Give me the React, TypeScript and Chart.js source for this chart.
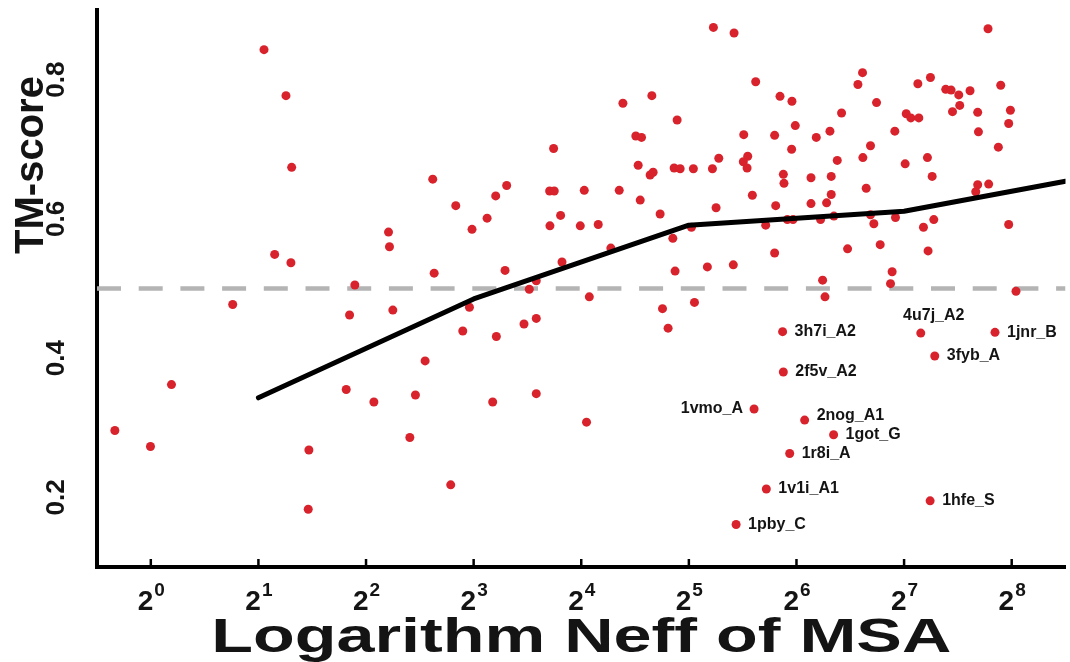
import React, { useEffect, useRef } from "react";
import { Chart, registerables } from "chart.js";

Chart.register(...registerables);

// ---------- data (x = log2 of Neff, y = TM-score) ----------
const neffLog2 = [
  1.052, 1.256, 1.309, 3.743, 2.62, 3.307, 5.228, 5.42, 5.621, 4.387,
  4.656, 4.891, 5.847, 5.958, 5.989, 4.507, 4.56, 5.51, 5.797, 6.184,
  6.311, 5.955, 4.529, 4.64, 4.668, 4.863, 4.919, 5.042, 5.219, 5.278,
  5.547, 5.506, 5.541, 5.878, 5.884, 6.135, 6.323, 4.028, 4.353, 7.78,
  6.614, 6.571, 7.128, 7.245, 7.387, 7.437, 7.508, 7.613, 7.898, 6.744,
  6.419, 7.517, 7.45, 7.684, 7.988, 7.972, 7.02, 7.063, 7.137, 6.914,
  7.691, 6.688, 7.876, 6.379, 6.617, 7.217, 7.01, 7.261, 6.648, 7.684,
  7.786, 7.666, 1.151, 1.302, 0.761, 2.834, 3.205, 3.706, 3.749, 2.209,
  2.218, 2.985, 3.125, 3.808, 3.709, 3.991, 3.821, 3.292, 2.633, 1.896,
  3.582, 3.517, 4.075, 1.847, 2.249, 2.961, 2.899, 3.211, 3.468, 3.582,
  2.549, 4.548, 4.733, 4.158, 4.275, 4.851, 5.024, 5.253, 5.59, 5.807,
  5.714, 5.915, 5.968, 6.135, 6.28, 6.323, 6.224, 5.797, 4.872, 5.172,
  5.413, 6.243, 6.265, 4.755, 5.052, 4.807, 6.348, 6.688, 6.719, 6.92,
  7.18, 7.276, 7.972, 6.475, 6.778, 7.223, 6.889, 6.874, 8.04, 0.192,
  -0.334, -0.003, 1.469, 1.463, 1.816, 2.073, 2.459, 2.407, 2.787, 3.177,
  3.582, 4.049,
];
const tmScore = [
  0.843, 0.777, 0.674, 0.701, 0.657, 0.648, 0.875, 0.867, 0.797, 0.766,
  0.777, 0.742, 0.776, 0.769, 0.734, 0.719, 0.717, 0.721, 0.72, 0.717,
  0.726, 0.7, 0.677, 0.663, 0.667, 0.673, 0.672, 0.672, 0.672, 0.687,
  0.69, 0.682, 0.673, 0.664, 0.651, 0.659, 0.661, 0.641, 0.641, 0.873,
  0.81, 0.793, 0.794, 0.803, 0.786, 0.785, 0.778, 0.784, 0.792, 0.767,
  0.752, 0.763, 0.754, 0.753, 0.756, 0.737, 0.751, 0.745, 0.745, 0.726,
  0.725, 0.705, 0.703, 0.684, 0.688, 0.688, 0.679, 0.661, 0.644, 0.649,
  0.65, 0.639, 0.549, 0.537, 0.477, 0.619, 0.633, 0.64, 0.64, 0.581,
  0.56, 0.585, 0.601, 0.605, 0.59, 0.59, 0.538, 0.526, 0.522, 0.505,
  0.511, 0.499, 0.488, 0.462, 0.469, 0.473, 0.439, 0.431, 0.449, 0.457,
  0.396, 0.627, 0.607, 0.592, 0.558, 0.572, 0.588, 0.616, 0.634, 0.619,
  0.591, 0.599, 0.599, 0.622, 0.623, 0.635, 0.599, 0.551, 0.525, 0.531,
  0.534, 0.512, 0.488, 0.471, 0.48, 0.443, 0.604, 0.606, 0.593, 0.602,
  0.588, 0.599, 0.592, 0.557, 0.563, 0.554, 0.524, 0.507, 0.496, 0.362,
  0.296, 0.273, 0.268, 0.183, 0.355, 0.337, 0.347, 0.286, 0.218, 0.337,
  0.349, 0.308,
];

const labelNames = [
  "3h7i_A2", "2f5v_A2", "4u7j_A2", "1jnr_B", "3fyb_A", "1vmo_A",
  "2nog_A1", "1got_G", "1r8i_A", "1v1i_A1", "1pby_C", "1hfe_S",
];
const labelNeffLog2 = [5.871, 5.878, 7.155, 7.845, 7.285, 5.606, 6.076, 6.345, 5.937, 5.72, 5.439, 7.242];
const labelTmScore = [0.438, 0.38, 0.436, 0.437, 0.403, 0.327, 0.311, 0.29, 0.263, 0.212, 0.161, 0.195];

const trendNeffLog2 = [1, 3, 5, 7, 8.5];
const trendTmScore = [0.343, 0.485, 0.591, 0.611, 0.654];

const thresholdTm = 0.5;
const xTickExponents = [0, 1, 2, 3, 4, 5, 6, 7, 8];
const yTickValues = [0.2, 0.4, 0.6, 0.8];
const xAxisTitle = "Logarithm Neff of MSA";
const yAxisTitle = "TM-score";

// ---------- style ----------
const FONT = "'Liberation Sans', Arial, sans-serif";
const RED = "#d8232c";
const TEXT = "#141414";

const decorPlugin = {
  id: "decor",
  afterDraw(chart: any) {
    const ctx = chart.ctx as CanvasRenderingContext2D;
    const xs = chart.scales.x;
    const ys = chart.scales.y;
    const area = chart.chartArea;
    ctx.save();
    ctx.fillStyle = TEXT;
    ctx.strokeStyle = "#000";

    // x tick marks and labels 2^k
    xs.ticks.forEach((t: any) => {
      const px = xs.getPixelForValue(t.value);
      ctx.lineWidth = 2.5;
      ctx.beginPath();
      ctx.moveTo(px, area.bottom);
      ctx.lineTo(px, area.bottom - 8);
      ctx.stroke();

      const exp = String(t.value);
      ctx.font = `bold 28px ${FONT}`;
      const wb = ctx.measureText("2").width;
      ctx.font = `bold 19px ${FONT}`;
      const we = ctx.measureText(exp).width;
      const start = px - (wb + we) / 2;
      ctx.textAlign = "left";
      ctx.textBaseline = "alphabetic";
      ctx.font = `bold 28px ${FONT}`;
      ctx.fillText("2", start, 610);
      ctx.font = `bold 19px ${FONT}`;
      ctx.fillText(exp, start + wb + 1, 596);
    });

    // y tick labels (rotated)
    ys.ticks.forEach((t: any) => {
      const py = ys.getPixelForValue(t.value);
      ctx.save();
      ctx.translate(64, py);
      ctx.rotate(-Math.PI / 2);
      ctx.font = `bold 26px ${FONT}`;
      ctx.textAlign = "center";
      ctx.textBaseline = "alphabetic";
      ctx.fillText(String(t.value), 0, 0);
      ctx.restore();
    });

    // x axis title (slightly widened like the reference)
    ctx.save();
    ctx.font = `bold 49px ${FONT}`;
    const natural = ctx.measureText(xAxisTitle).width;
    const targetW = 740;
    const cx = (area.left + area.right) / 2;
    ctx.translate(cx, 652);
    ctx.scale(targetW / natural, 1);
    ctx.textAlign = "center";
    ctx.textBaseline = "alphabetic";
    ctx.fillText(xAxisTitle, 0, 0);
    ctx.restore();

    // y axis title
    ctx.save();
    ctx.translate(43, 165);
    ctx.rotate(-Math.PI / 2);
    ctx.font = `bold 40px ${FONT}`;
    ctx.textAlign = "center";
    ctx.textBaseline = "alphabetic";
    ctx.fillText(yAxisTitle, 0, 0);
    ctx.restore();

    // point labels
    ctx.font = `bold 16px ${FONT}`;
    ctx.textBaseline = "middle";
    labelNames.forEach((name, i) => {
      const px = xs.getPixelForValue(labelNeffLog2[i]);
      const py = ys.getPixelForValue(labelTmScore[i]);
      if (name === "1vmo_A") {
        ctx.textAlign = "right";
        ctx.fillText(name, px - 11, py);
      } else if (name === "4u7j_A2") {
        ctx.textAlign = "center";
        ctx.fillText(name, px + 13, py - 17);
      } else if (name === "2nog_A1") {
        ctx.textAlign = "left";
        ctx.fillText(name, px + 12, py - 4);
      } else {
        ctx.textAlign = "left";
        ctx.fillText(name, px + 12, py);
      }
    });
    ctx.restore();
  },
};

export default function App() {
  const ref = useRef<HTMLCanvasElement | null>(null);

  useEffect(() => {
    if (!ref.current) return;
    const pts = neffLog2.map((x, i) => ({ x, y: tmScore[i] }));
    const lpts = labelNeffLog2.map((x, i) => ({ x, y: labelTmScore[i] }));
    const trend = trendNeffLog2.map((x, i) => ({ x, y: trendTmScore[i] }));
    const xMin = -0.5;
    const xMax = 8.5;
    const thr = [
      { x: xMin, y: thresholdTm },
      { x: xMax, y: thresholdTm },
    ];

    const chart = new Chart(ref.current, {
      type: "scatter",
      data: {
        datasets: [
          {
            type: "line",
            data: trend,
            borderColor: "#000",
            borderWidth: 5,
            pointRadius: 0,
            fill: false,
            tension: 0,
            borderCapStyle: "round",
            borderJoinStyle: "round",
          } as any,
          {
            data: pts,
            backgroundColor: RED,
            borderWidth: 0,
            pointRadius: 4.5,
          },
          {
            data: lpts,
            backgroundColor: RED,
            borderWidth: 0,
            pointRadius: 4.5,
          },
          {
            type: "line",
            data: thr,
            borderColor: "#b4b4b4",
            borderWidth: 4.5,
            borderDash: [24, 17.7],
            pointRadius: 0,
            fill: false,
          } as any,
        ],
      },
      options: {
        responsive: false,
        animation: false,
        devicePixelRatio: 1,
        layout: { padding: { top: 10, right: 2, left: 0, bottom: 0 } },
        plugins: {
          legend: { display: false },
          tooltip: { enabled: false },
        },
        scales: {
          x: {
            type: "linear",
            min: xMin,
            max: xMax,
            afterBuildTicks: (s: any) => {
              s.ticks = xTickExponents.map((v) => ({ value: v }));
            },
            afterFit: (s: any) => {
              s.height = 95;
            },
            ticks: { display: false },
            grid: { display: false },
            border: { display: true, color: "#000", width: 4 },
          },
          y: {
            type: "linear",
            min: 0.1,
            max: 0.9,
            afterBuildTicks: (s: any) => {
              s.ticks = yTickValues.map((v) => ({ value: v }));
            },
            afterFit: (s: any) => {
              s.width = 97;
            },
            ticks: { display: false },
            grid: { display: false },
            border: { display: true, color: "#000", width: 4 },
          },
        },
      },
      plugins: [decorPlugin],
    });
    return () => chart.destroy();
  }, []);

  return (
    <div style={{ position: "fixed", left: 0, top: 0, width: 1070, height: 662, background: "#fff" }}>
      <canvas ref={ref} width={1070} height={662} style={{ display: "block" }} />
    </div>
  );
}
